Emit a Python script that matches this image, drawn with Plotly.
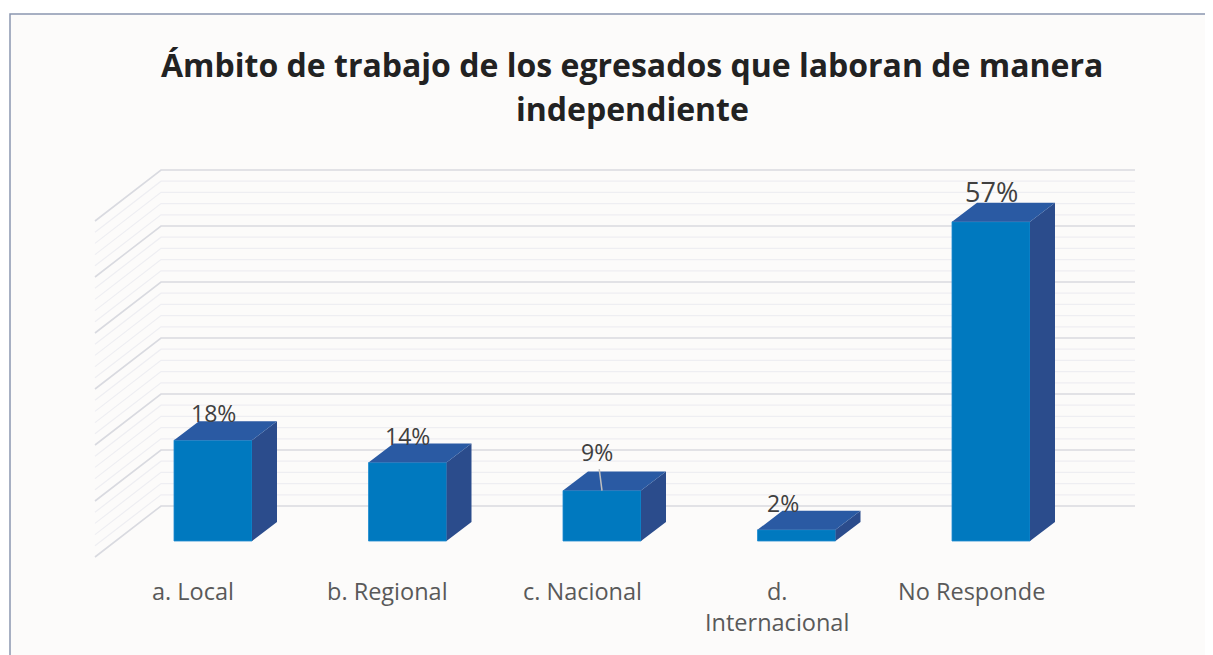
import plotly.graph_objects as go

# ---------------- data ----------------
categories = ["a. Local", "b. Regional", "c. Nacional", "d.<br>Internacional", "No Responde"]
values = [18, 14, 9, 2, 57]
value_labels = ["18%", "14%", "9%", "2%", "57%"]
grid_values = list(range(0, 61, 2))
title_lines = ["Ámbito de trabajo de los egresados que laboran de manera", "independiente"]

# ---------------- geometry ----------------
OFF = 8                      # default page margin of the html body
W, H = 1213 - OFF, 655 - OFF  # figure size
PXU = 194.5      # px per category
PYU = 5.6        # px per percentage point
X0PX = 213 - OFF  # px position of first category (figure coords)
Y0PX = 541 - OFF  # px position of the 0 baseline (figure coords)


def fx(px):
    """screen px (page) -> x data"""
    return (px - OFF - X0PX) / PXU


def fy(py):
    """screen px (page) -> y data"""
    return (Y0PX - (py - OFF)) / PYU


xr = [fx(OFF), fx(OFF + W)]
yr = [fy(OFF + H), fy(OFF)]

BW = 78 / PXU          # bar width
DX = 25 / PXU          # 3D depth offset x
DY = 19 / PYU          # 3D depth offset y
WALL_DY = 35 / PYU     # back wall raised above front baseline
WALL_X0 = fx(161)
WALL_X1 = fx(1135)
SIDE_X0 = fx(95)
SIDE_DROP = 51 / PYU

FRONT = "#0079BF"
TOP = "#2A5AA3"
SIDE = "#2B4C8C"
FONT = "Open Sans"

xs = list(range(len(values)))

fig = go.Figure()

# front faces
fig.add_trace(go.Bar(
    x=xs, y=values, width=BW,
    marker=dict(color=FRONT, line=dict(width=0.8, color="#1C8BD0")),
    hoverinfo="skip", showlegend=False,
))

# side faces and top faces computed from the data
sx, sy, tx, ty = [], [], [], []
for x, v in zip(xs, values):
    r = x + BW / 2
    l = x - BW / 2
    sx += [r, r + DX, r + DX, r, r, None]
    sy += [0, DY, v + DY, v, 0, None]
    tx += [l, l + DX, r + DX, r, l, None]
    ty += [v, v + DY, v + DY, v, v, None]

fig.add_trace(go.Scatter(x=sx, y=sy, mode="lines", fill="toself", fillcolor=SIDE,
                         line=dict(width=0, color=SIDE), hoverinfo="skip", showlegend=False))
fig.add_trace(go.Scatter(x=tx, y=ty, mode="lines", fill="toself", fillcolor=TOP,
                         line=dict(width=0, color=TOP), hoverinfo="skip", showlegend=False))

shapes = []
# chart area background with border (top and left edges visible)
shapes.append(dict(type="rect", xref="x", yref="y",
                   x0=fx(10), x1=fx(1240), y0=fy(680), y1=fy(14),
                   fillcolor="#FCFBFA", line=dict(color="#8A96B0", width=1.5), layer="below"))

# back wall + side wall grid lines
for v in grid_values:
    major = v % 10 == 0
    yb = v + WALL_DY
    path = f"M {SIDE_X0} {yb - SIDE_DROP} L {WALL_X0} {yb} L {WALL_X1} {yb}"
    shapes.append(dict(type="path", xref="x", yref="y", path=path,
                       line=dict(color="#D9DAE0" if major else "#EEEEF2",
                                 width=1.6 if major else 1.2),
                       layer="below"))

annotations = []
# value labels
for x, v, lab in zip(xs, values, value_labels):
    size = 27 if v == max(values) else 23
    if lab == "9%":
        annotations.append(dict(x=x, y=v, xref="x", yref="y", text=lab,
                                showarrow=True, arrowhead=0, arrowwidth=1.5,
                                arrowcolor="#BFBFBF", ax=-5, ay=-39,
                                font=dict(family=FONT, size=size, color="#404040")))
    else:
        annotations.append(dict(x=x, y=v, xref="x", yref="y", text=lab,
                                showarrow=False, yshift=27 if v < 50 else 30,
                                xshift=-14 if v < 5 else 0,
                                font=dict(family=FONT, size=size, color="#404040")))

# category labels
for x, c in zip(xs, categories):
    annotations.append(dict(x=x - 20 / PXU, y=fy(573), xref="x", yref="y",
                            text=c, showarrow=False, yanchor="top", xanchor="center",
                            font=dict(family=FONT, size=23.5, color="#595959")))

# title
for t, ypx in zip(title_lines, [64, 108]):
    annotations.append(dict(x=fx(632), y=fy(ypx), xref="x", yref="y",
                            text=f"<b>{t}</b>", showarrow=False,
                            xanchor="center", yanchor="middle",
                            font=dict(family=FONT, size=32, color="#222222")))

fig.update_layout(
    width=W, height=H,
    margin=dict(l=0, r=0, t=0, b=0),
    paper_bgcolor="white",
    plot_bgcolor="rgba(0,0,0,0)",
    xaxis=dict(range=xr, visible=False, fixedrange=True),
    yaxis=dict(range=yr, visible=False, fixedrange=True),
    shapes=shapes,
    annotations=annotations,
    showlegend=False,
)

fig.write_html("out.html")
